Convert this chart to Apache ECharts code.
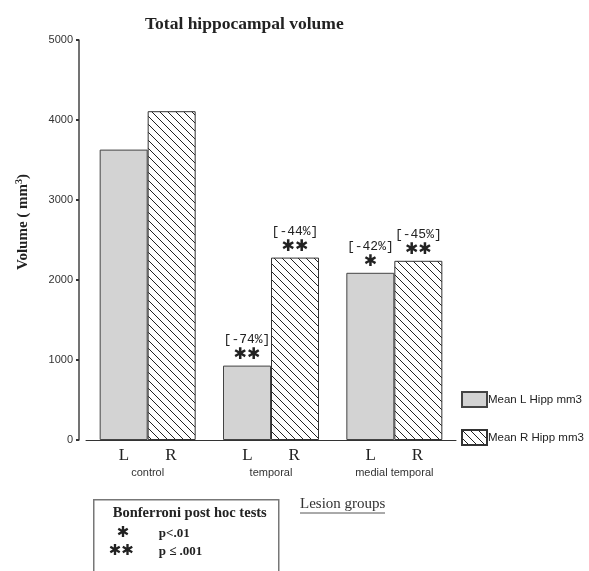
<!DOCTYPE html>
<html>
<head>
<meta charset="utf-8">
<script src="https://cdn.jsdelivr.net/npm/echarts@6/dist/echarts.min.js"></script>
<style>
  html, body { margin: 0; padding: 0; background: #fff; }
  #chart { width: 589px; height: 571px; }
</style>
</head>
<body>
<div id="chart"></div>
<script>
// Lesion groups and mean hippocampal volumes (mm3)
const groups = ['control', 'temporal', 'medial temporal'];
const leftVol = [3630, 930, 2090];
const rightVol = [4110, 2280, 2240];
// Change from control and Bonferroni significance markers
const leftPct = ['', '-74%', '-42%'];
const rightPct = ['', '-44%', '-45%'];
const leftSig = [0, 2, 1];
const rightSig = [0, 2, 2];
const yTicks = [0, 1000, 2000, 3000, 4000, 5000];

// Diagonal hatching for the right hemisphere bars
function hatchPattern() {
  const c = document.createElement('canvas');
  const s = 8;
  c.width = s; c.height = s;
  const g = c.getContext('2d');
  g.fillStyle = '#fff';
  g.fillRect(0, 0, s, s);
  g.strokeStyle = '#222';
  g.lineWidth = 1;
  g.beginPath();
  g.moveTo(-1, -1); g.lineTo(s + 1, s + 1);
  g.moveTo(-1, s - 1); g.lineTo(1, s + 1);
  g.moveTo(s - 1, -1); g.lineTo(s + 1, 1);
  g.stroke();
  return c;
}

const STAR = '\u2731';
function sigLabel(pcts, sigs) {
  return function (p) {
    const i = p.dataIndex;
    if (!pcts[i]) return '';
    return '{p|[' + pcts[i] + ']}\n{s|' + STAR.repeat(sigs[i]) + '}';
  };
}
const labelRich = {
  p: { fontFamily: 'Liberation Mono', fontSize: 13, color: '#222', lineHeight: 15 },
  s: { fontFamily: 'DejaVu Sans', fontSize: 16, fontWeight: 'bold', color: '#222', lineHeight: 17 }
};

const chart = echarts.init(document.getElementById('chart'));
chart.setOption({
  animation: false,
  backgroundColor: '#fff',
  title: {
    text: 'Total hippocampal volume',
    left: 140, top: 10,
    textStyle: { fontFamily: 'Liberation Serif', fontWeight: 'bold', fontSize: 17.5, color: '#222' }
  },
  legend: {
    orient: 'vertical',
    left: 456, top: 386,
    itemWidth: 25, itemHeight: 15, itemGap: 21,
    icon: 'rect',
    textStyle: { fontFamily: 'Liberation Sans', fontSize: 11.5, color: '#222', padding: [0, 0, 0, -4] },
    data: ['Mean L Hipp mm3', 'Mean R Hipp mm3']
  },
  grid: { left: 86, top: 40, width: 370, height: 400 },
  xAxis: {
    type: 'category',
    data: groups,
    axisLine: { lineStyle: { color: '#333', width: 1 } },
    axisTick: { alignWithLabel: true, length: 2, lineStyle: { color: '#333', width: 2 } },
    axisLabel: {
      margin: 6,
      interval: 0,
      formatter: function (v) { return '{lr|L}{gap|}{lr|R}\n{g|' + v + '}'; },
      rich: {
        lr: { fontFamily: 'Liberation Serif', fontSize: 17, color: '#222', lineHeight: 19 },
        gap: { width: 36 },
        g: { fontFamily: 'Liberation Sans', fontSize: 11, color: '#333', lineHeight: 16 }
      }
    }
  },
  yAxis: {
    type: 'value',
    min: yTicks[0], max: yTicks[yTicks.length - 1], interval: 1000,
    offset: 7,
    name: 'Volume ( mm{sup|3})',
    nameLocation: 'middle',
    nameGap: 47,
    nameTextStyle: {
      fontFamily: 'Liberation Serif', fontWeight: 'bold', fontSize: 15, color: '#222',
      padding: [0, 0, 0, 36],
      rich: { sup: { fontFamily: 'Liberation Serif', fontWeight: 'bold', fontSize: 10, color: '#222', verticalAlign: 'top', padding: [0, 0, 8, 0] } }
    },
    axisLine: { show: true, lineStyle: { color: '#444', width: 1.5 } },
    axisTick: { show: true, length: 3, lineStyle: { color: '#333', width: 2 } },
    axisLabel: {
      fontFamily: 'Liberation Sans', fontSize: 11, color: '#333', margin: 6,
      formatter: function (v) { return String(v); }
    },
    splitLine: { show: false }
  },
  series: [
    {
      name: 'Mean L Hipp mm3',
      type: 'bar',
      data: leftVol,
      barWidth: 48,
      barGap: '0%',
      itemStyle: { color: '#d3d3d3', borderColor: '#444', borderWidth: 1 },
      label: { show: true, position: 'top', distance: 2, formatter: sigLabel(leftPct, leftSig), rich: labelRich }
    },
    {
      name: 'Mean R Hipp mm3',
      type: 'bar',
      data: rightVol,
      barWidth: 48,
      itemStyle: { color: { image: hatchPattern(), repeat: 'repeat' }, borderColor: '#333', borderWidth: 1 },
      label: { show: true, position: 'top', distance: 2, formatter: sigLabel(rightPct, rightSig), rich: labelRich }
    }
  ],
  graphic: [
    {
      type: 'group', left: 93, top: 499,
      children: [
        { type: 'rect', shape: { x: 0, y: 0, width: 185, height: 90 }, style: { fill: '#fff', stroke: '#777', lineWidth: 1.5 } },
        { type: 'text', x: 96, y: 6, style: { text: 'Bonferroni post hoc tests', textAlign: 'center', font: 'bold 14.5px "Liberation Serif"', fill: '#222' } },
        { type: 'text', x: 23, y: 26, style: { text: STAR, font: 'bold 15px "DejaVu Sans"', fill: '#222' } },
        { type: 'text', x: 65, y: 27, style: { text: 'p<.01', font: 'bold 13px "Liberation Serif"', fill: '#222' } },
        { type: 'text', x: 15, y: 44, style: { text: STAR + STAR, font: 'bold 15px "DejaVu Sans"', fill: '#222' } },
        { type: 'text', x: 65, y: 45, style: { text: 'p \u2264 .001', font: 'bold 13px "Liberation Serif"', fill: '#222' } }
      ]
    },
    {
      type: 'text', left: 300, top: 497,
      style: { text: 'Lesion groups', font: '15px "Liberation Serif"', fill: '#333' }
    },
    {
      type: 'line', shape: { x1: 300, y1: 513, x2: 385, y2: 513 }, style: { stroke: '#555', lineWidth: 1 }
    }
  ]
});
</script>
</body>
</html>
